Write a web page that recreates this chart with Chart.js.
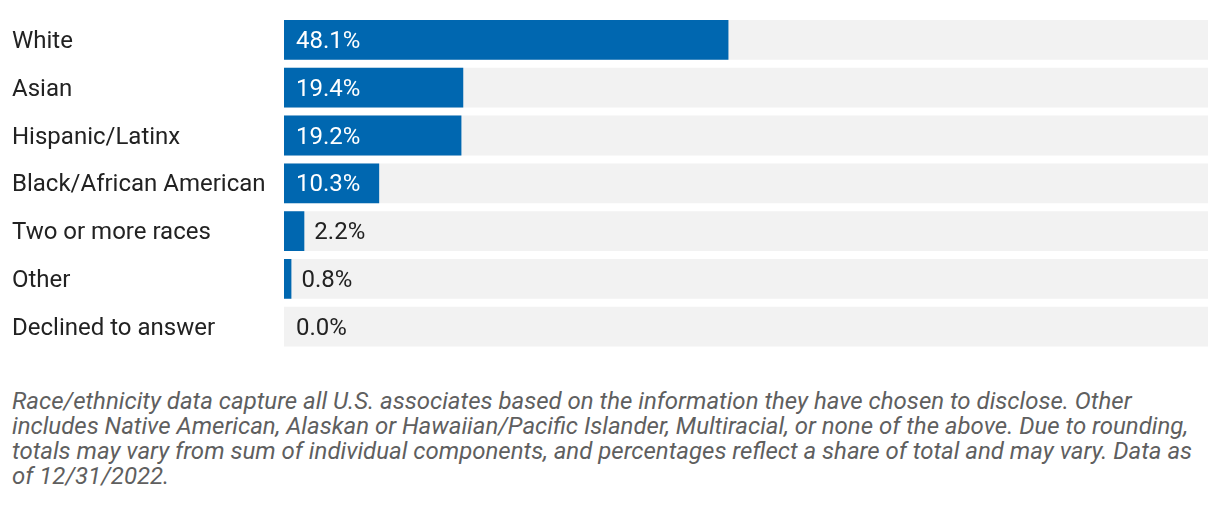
<html lang="en">
<head>
  <meta charset="utf-8">
  <title>Race/ethnicity</title>
  <script src="https://cdn.jsdelivr.net/npm/chart.js@4.4.0/dist/chart.umd.min.js"></script>
  <style>
    body { margin: 0; background: #fff; font-family: Roboto, sans-serif; }
    #wrap { position: relative; width: 1220px; height: 365px; }
    #note { margin: 24px 12px 0 12px; font-size: 24px; line-height: 25px; font-style: italic; color: #5f5f5f; }
  </style>
</head>
<body>
<div id="wrap"><canvas id="bar"></canvas></div>
<div id="note">Race/ethnicity data capture all U.S. associates based on the information they have chosen to disclose. Other includes Native American, Alaskan or Hawaiian/Pacific Islander, Multiracial, or none of the above. Due to rounding, totals may vary from sum of individual components, and percentages reflect a share of total and may vary. Data as of 12/31/2022.</div>

<script>
var labels = ["White", "Asian", "Hispanic/Latinx", "Black/African American", "Two or more races", "Other", "Declined to answer"];
var values = [48.1, 19.4, 19.2, 10.3, 2.2, 0.8, 0.0];
var fullScale = [100, 100, 100, 100, 100, 100, 100];

var blue = "#0067b0";
var track = "#f2f2f2";
var font = "24px Roboto";

// writes the percent next to / inside each bar
var valueLabels = {
    id: "valueLabels",
    afterDatasetsDraw: function(chart) {
        var ctx = chart.ctx;
        var meta = chart.getDatasetMeta(0);
        ctx.save();
        ctx.font = font;
        ctx.textBaseline = "middle";
        ctx.textAlign = "left";
        meta.data.forEach(function(bar, i) {
            var txt = values[i].toFixed(1) + "%";
            var w = ctx.measureText(txt).width;
            var start = Math.min(bar.base, bar.x);
            var len = Math.abs(bar.x - bar.base);
            if (len > w + 24) {
                ctx.fillStyle = "#ffffff";
                ctx.fillText(txt, start + 12, bar.y + 2);
            } else {
                ctx.fillStyle = "#222222";
                ctx.fillText(txt, start + len + (len > 0 ? 10 : 12), bar.y + 2);
            }
        });
        ctx.restore();
    }
};

var ctx = document.getElementById("bar").getContext("2d");
var chart = new Chart(ctx, {
    type: "bar",
    data: {
        labels: labels,
        datasets: [{
            label: "Share",
            data: values,
            backgroundColor: blue,
            order: 1,
            grouped: false,
            barPercentage: 40 / 48,
            categoryPercentage: 1
        }, {
            label: "Track",
            data: fullScale,
            backgroundColor: track,
            order: 2,
            grouped: false,
            barPercentage: 40 / 48,
            categoryPercentage: 1
        }]
    },
    options: {
        indexAxis: "y",
        responsive: true,
        maintainAspectRatio: false,
        animation: false,
        layout: { padding: { left: 12, right: 12, top: 16, bottom: 13 } },
        plugins: { legend: { display: false }, tooltip: { enabled: false } },
        scales: {
            x: { display: false, min: 0, max: 100 },
            y: {
                grid: { display: false, drawTicks: false },
                border: { display: false },
                ticks: {
                    crossAlign: "far",
                    padding: 0,
                    labelOffset: 2,
                    color: "#222222",
                    font: { family: "Roboto", size: 24 }
                },
                afterFit: function(scale) { scale.width = 272; }
            }
        }
    },
    plugins: [valueLabels]
});
</script>
</body>
</html>
